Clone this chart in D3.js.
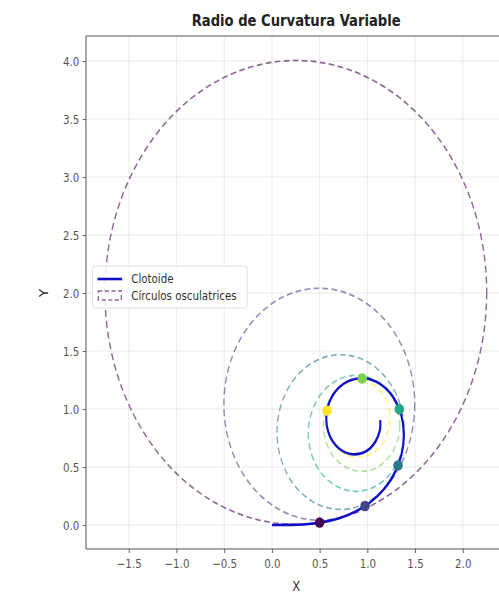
<!DOCTYPE html>
<meta charset="utf-8">
<html>
<head>
<style>
body { margin: 0; background: #fff; }
text { font-family: "DejaVu Sans", sans-serif; fill: #333; }
.tick text { font-size: 12.5px; fill: #555; }
.grid line { stroke: #e8e8e8; stroke-width: 1; }
</style>
</head>
<body>
<div id="chart"></div>
<script src="https://d3js.org/d3.v7.min.js"></script>
<script>
// clothoid curve, points
var curveX = [0, 0.177, 0.354, 0.531, 0.705, 0.873, 1.030, 1.169, 1.281, 1.356, 1.382, 1.354, 1.268, 1.132, 0.963, 0.789, 0.648, 0.574, 0.591, 0.699, 0.865, 1.031, 1.128, 1.134];
var curveY = [0, 0.001, 0.007, 0.025, 0.059, 0.115, 0.196, 0.305, 0.442, 0.602, 0.777, 0.951, 1.105, 1.216, 1.265, 1.236, 1.132, 0.973, 0.799, 0.662, 0.609, 0.663, 0.808, 0.905];

// marked points on the curve
var dotX = [0.499, 0.975, 1.321, 1.335, 0.946, 0.578];
var dotY = [0.021, 0.164, 0.514, 0.998, 1.263, 0.986];

// osculating circles (center + radius)
var circCX = [0.250, 0.496, 0.720, 0.881, 0.939, 0.904];
var circCY = [2.005, 1.041, 0.801, 0.790, 0.863, 0.916];
var circR  = [2.0, 1.0, 0.667, 0.5, 0.4, 0.333];
var colors = ["#440154", "#414487", "#2a788e", "#22a884", "#7ad151", "#fde725"];

var xTicks = [-1.5, -1.0, -0.5, 0.0, 0.5, 1.0, 1.5, 2.0];
var yTicks = [0.0, 0.5, 1.0, 1.5, 2.0, 2.5, 3.0, 3.5, 4.0];

// the picture is squeezed horizontally, so draw wider and scale down
var sx = 0.8227;
var W = 499, H = 598;
var margin = {top: 36, left: 104.5, bottom: 49};
var height = H - margin.top - margin.bottom;
var width = 116 * (2.45 + 1.949);

var svg = d3.select("#chart").append("svg")
    .attr("width", W).attr("height", H);
var root = svg.append("g").attr("transform", "scale(" + sx + ",1)");
var g = root.append("g")
    .attr("transform", "translate(" + margin.left + "," + margin.top + ")");

var x = d3.scaleLinear().domain([-1.949, 2.45]).range([0, width]);
var y = d3.scaleLinear().domain([-0.207, 4.216]).range([height, 0]);

// grid
g.append("g").attr("class", "grid")
  .selectAll("line").data(xTicks).enter().append("line")
    .attr("x1", function(d) { return x(d); }).attr("x2", function(d) { return x(d); })
    .attr("y1", 0).attr("y2", height);
g.append("g").attr("class", "grid")
  .selectAll("line").data(yTicks).enter().append("line")
    .attr("x1", 0).attr("x2", width)
    .attr("y1", function(d) { return y(d); }).attr("y2", function(d) { return y(d); });

g.append("clipPath").attr("id", "clip")
  .append("rect").attr("width", width).attr("height", height);
var plot = g.append("g").attr("clip-path", "url(#clip)");

// osculating circles
var circles = circR.map(function(r, i) {
  return {cx: circCX[i], cy: circCY[i], r: r, c: colors[i]};
});
plot.selectAll(".osc").data(circles).enter().append("ellipse")
    .attr("class", "osc")
    .attr("cx", function(d) { return x(d.cx); })
    .attr("cy", function(d) { return y(d.cy); })
    .attr("rx", function(d) { return x(d.r) - x(0); })
    .attr("ry", function(d) { return y(0) - y(d.r); })
    .style("fill", "none")
    .style("stroke", function(d) { return d.c; })
    .style("stroke-width", 1.7)
    .style("stroke-dasharray", "7,4")
    .style("opacity", 0.6);

// clothoid
var pts = curveX.map(function(v, i) { return [v, curveY[i]]; });
var line = d3.line()
    .x(function(d) { return x(d[0]); })
    .y(function(d) { return y(d[1]); })
    .curve(d3.curveCatmullRom);
plot.append("path").datum(pts)
    .attr("d", line)
    .style("fill", "none")
    .style("stroke", "#1010c8")
    .style("stroke-width", 2.6);

// dots
plot.selectAll(".dot").data(dotX).enter().append("ellipse")
    .attr("class", "dot")
    .attr("cx", function(d) { return x(d); })
    .attr("cy", function(d, i) { return y(dotY[i]); })
    .attr("rx", 5.8).attr("ry", 5.2)
    .style("fill", function(d, i) { return colors[i]; });

// axes
var xAxis = g.append("g")
    .attr("transform", "translate(0," + height + ")")
    .call(d3.axisBottom(x).tickValues(xTicks).tickFormat(d3.format(".1f")).tickSize(4).tickPadding(6));
var yAxis = g.append("g")
    .call(d3.axisLeft(y).tickValues(yTicks).tickFormat(d3.format(".1f")).tickSize(4).tickPadding(4));
[xAxis, yAxis].forEach(function(a) {
  a.select(".domain").remove();
  a.selectAll(".tick line").style("stroke", "#555");
});
g.append("line").attr("x1", 0).attr("x2", 0).attr("y1", 0).attr("y2", height)
    .style("stroke", "#555").style("stroke-width", 1.2);
g.append("line").attr("x1", 0).attr("x2", width).attr("y1", height).attr("y2", height)
    .style("stroke", "#555").style("stroke-width", 1.2);
g.append("line").attr("x1", 0).attr("x2", width).attr("y1", 0).attr("y2", 0)
    .style("stroke", "#555").style("stroke-width", 1.2);

// labels
root.append("text")
    .attr("x", 360).attr("y", 26)
    .style("text-anchor", "middle")
    .style("font-size", "16px").style("font-weight", "bold").style("fill", "#222")
    .text("Radio de Curvatura Variable");
root.append("text")
    .attr("x", 360).attr("y", 591)
    .style("text-anchor", "middle").style("font-size", "14px")
    .text("X");
root.append("text")
    .attr("transform", "translate(58," + (margin.top + y(2.0)) + ") rotate(-90)")
    .style("text-anchor", "middle").style("font-size", "14px")
    .text("Y");

// legend
var lg = g.append("g").attr("transform", "translate(8," + (y(2.0) - 27) + ")");
lg.append("rect")
    .attr("width", 188).attr("height", 42).attr("rx", 3)
    .style("fill", "#fff").style("fill-opacity", 0.85)
    .style("stroke", "#ddd");
lg.append("line").attr("x1", 6).attr("x2", 36).attr("y1", 13).attr("y2", 13)
    .style("stroke", "#1010c8").style("stroke-width", 2.6);
lg.append("rect").attr("x", 7).attr("y", 25).attr("width", 28).attr("height", 9)
    .style("fill", "none").style("stroke", colors[0]).style("opacity", 0.6)
    .style("stroke-width", 1.6).style("stroke-dasharray", "5,3");
lg.append("text").attr("x", 47).attr("y", 17).style("font-size", "12.5px").text("Clotoide");
lg.append("text").attr("x", 47).attr("y", 34).style("font-size", "12.5px").text("Círculos osculatrices");
</script>
</body>
</html>
